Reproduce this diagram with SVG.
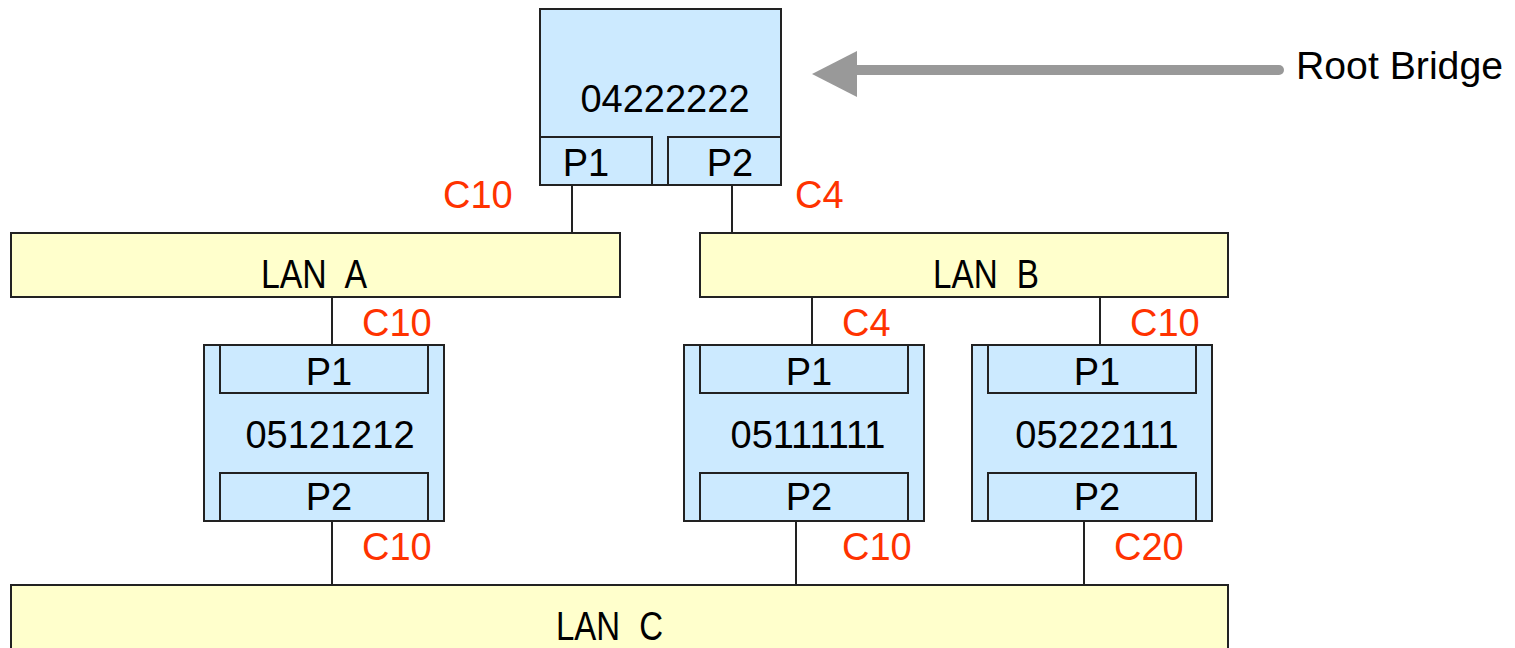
<svg xmlns="http://www.w3.org/2000/svg" width="1515" height="648" viewBox="0 0 1515 648">
  <style>
    .bridge { fill: #cceaff; stroke: #222; stroke-width: 2; }
    .port { fill: #cceaff; stroke: #222; stroke-width: 2; }
    .lan { fill: #ffffcc; stroke: #222; stroke-width: 2; }
    .wire { stroke: #222; stroke-width: 2; fill: none; }
    text { font-family: "Liberation Sans", Arial, sans-serif; font-size: 38px; fill: #000; }
    .mid { text-anchor: middle; }
    .cost { fill: #ff3300; }
    .lanlabel { font-size: 40px; word-spacing: 12px; }
  </style>

  <!-- connectors -->
  <g id="connectors">
    <line class="wire" x1="572" y1="185" x2="572" y2="233"/>
    <line class="wire" x1="732" y1="185" x2="732" y2="233"/>
    <line class="wire" x1="332" y1="297" x2="332" y2="345"/>
    <line class="wire" x1="812" y1="297" x2="812" y2="345"/>
    <line class="wire" x1="1100" y1="297" x2="1100" y2="345"/>
    <line class="wire" x1="332" y1="521" x2="332" y2="585"/>
    <line class="wire" x1="796" y1="521" x2="796" y2="585"/>
    <line class="wire" x1="1084" y1="521" x2="1084" y2="585"/>
    <line x1="1279" y1="70" x2="857" y2="70" stroke="#999" stroke-width="10" stroke-linecap="round"/>
    <path d="M812,74 L857,51 L857,97 Z" fill="#999"/>
  </g>

  <!-- root bridge -->
  <g id="root-bridge">
    <rect class="bridge" x="540" y="9" width="241" height="176"/>
    <rect class="port" x="540" y="137" width="112" height="48"/>
    <rect class="port" x="668" y="137" width="113" height="48"/>
    <text class="mid" x="665" y="112">04222222</text>
    <text class="mid" x="586" y="176">P1</text>
    <text class="mid" x="730" y="176">P2</text>
  </g>
  <text id="root-label" x="1296" y="79" textLength="207" lengthAdjust="spacingAndGlyphs">Root Bridge</text>

  <!-- LANs -->
  <g id="lan-a">
    <rect class="lan" x="11" y="233" width="609" height="64"/>
    <text class="lanlabel" x="261" y="288" textLength="106" lengthAdjust="spacingAndGlyphs">LAN A</text>
  </g>
  <g id="lan-b">
    <rect class="lan" x="700" y="233" width="528" height="64"/>
    <text class="lanlabel" x="933" y="288" textLength="106" lengthAdjust="spacingAndGlyphs">LAN B</text>
  </g>
  <g id="lan-c">
    <rect class="lan" x="11" y="585" width="1217" height="70"/>
    <text class="lanlabel" x="556" y="640" textLength="107" lengthAdjust="spacingAndGlyphs">LAN C</text>
  </g>

  <!-- bridge 05121212 -->
  <g id="bridge-05121212">
    <rect class="bridge" x="204" y="345" width="240" height="176"/>
    <rect class="port" x="220" y="345" width="208" height="48"/>
    <rect class="port" x="220" y="473" width="208" height="48"/>
    <text class="mid" x="329" y="385">P1</text>
    <text class="mid" x="330" y="448">05121212</text>
    <text class="mid" x="329" y="510">P2</text>
  </g>

  <!-- bridge 05111111 -->
  <g id="bridge-05111111">
    <rect class="bridge" x="684" y="345" width="240" height="176"/>
    <rect class="port" x="700" y="345" width="208" height="48"/>
    <rect class="port" x="700" y="473" width="208" height="48"/>
    <text class="mid" x="809" y="385">P1</text>
    <text class="mid" x="808" y="448">05111111</text>
    <text class="mid" x="809" y="510">P2</text>
  </g>

  <!-- bridge 05222111 -->
  <g id="bridge-05222111">
    <rect class="bridge" x="972" y="345" width="240" height="176"/>
    <rect class="port" x="988" y="345" width="208" height="48"/>
    <rect class="port" x="988" y="473" width="208" height="48"/>
    <text class="mid" x="1097" y="385">P1</text>
    <text class="mid" x="1097" y="448">05222111</text>
    <text class="mid" x="1097" y="510">P2</text>
  </g>

  <!-- path costs -->
  <g id="costs">
    <text class="cost" x="443" y="208">C10</text>
    <text class="cost" x="795" y="208">C4</text>
    <text class="cost" x="362" y="336">C10</text>
    <text class="cost" x="842" y="336">C4</text>
    <text class="cost" x="1130" y="336">C10</text>
    <text class="cost" x="362" y="560">C10</text>
    <text class="cost" x="842" y="560">C10</text>
    <text class="cost" x="1114" y="560">C20</text>
  </g>
</svg>
